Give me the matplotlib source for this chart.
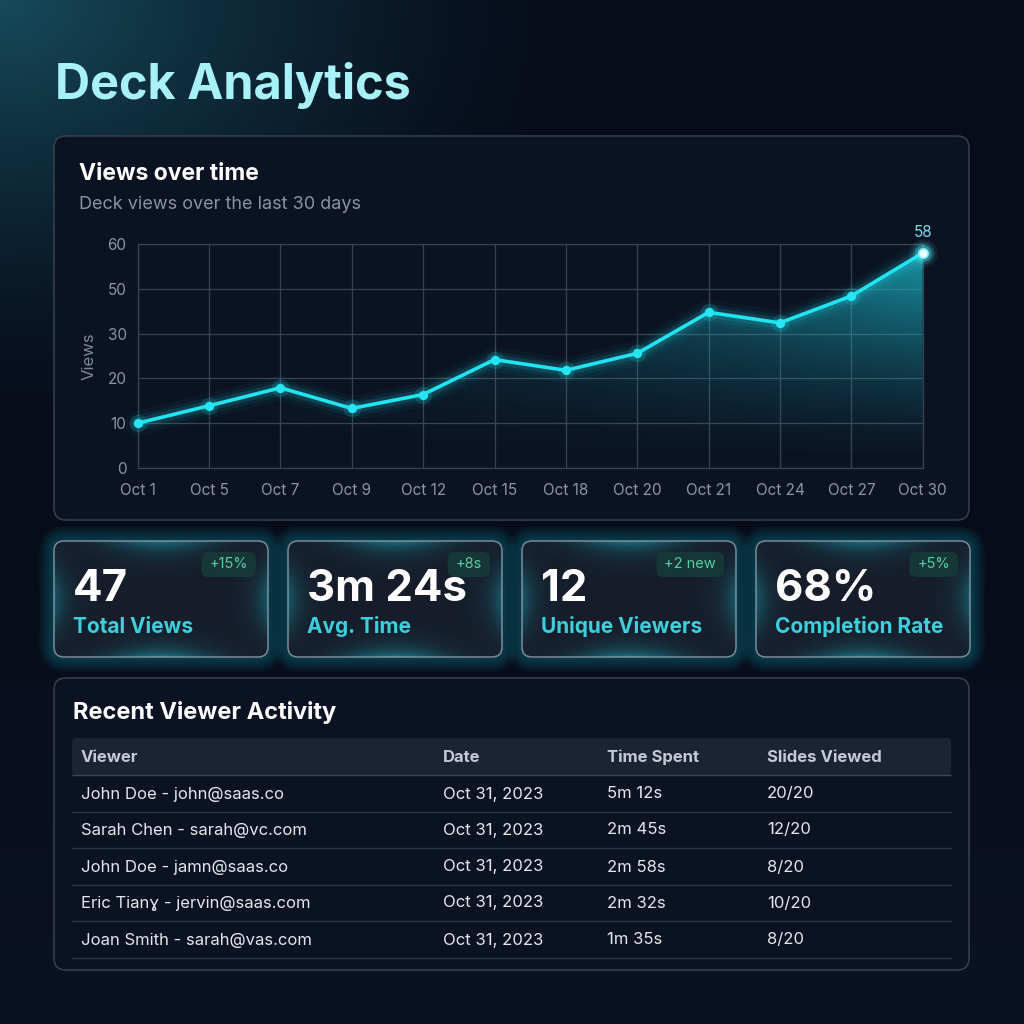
import numpy as np
import matplotlib
matplotlib.use("Agg")
import matplotlib.pyplot as plt
from matplotlib.patches import FancyBboxPatch
from matplotlib.colors import to_rgb

plt.rcParams['font.family'] = ['Inter', 'DejaVu Sans']

# ---- data ----
days = ['Oct 1', 'Oct 5', 'Oct 7', 'Oct 9', 'Oct 12', 'Oct 15',
        'Oct 18', 'Oct 20', 'Oct 21', 'Oct 24', 'Oct 27', 'Oct 30']
views = [10, 13.9, 17.9, 13.3, 16.4, 24.2, 21.8, 25.6, 39.5, 34.8, 46.8, 58]
ytick_vals = [0, 10, 20, 30, 50, 60]

stat_values = ['47', '3m 24s', '12', '68%']
stat_labels = ['Total Views', 'Avg. Time', 'Unique Viewers', 'Completion Rate']
stat_deltas = ['+15%', '+8s', '+2 new', '+5%']

table_cols = ['Viewer', 'Date', 'Time Spent', 'Slides Viewed']
viewers = ['John Doe - john@saas.co', 'Sarah Chen - sarah@vc.com',
           'John Doe - jamn@saas.co', 'Eric Tianɣ - jervin@saas.com',
           'Joan Smith - sarah@vas.com']
dates = ['Oct 31, 2023'] * 5
times = ['5m 12s', '2m 45s', '2m 58s', '2m 32s', '1m 35s']
slides = ['20/20', '12/20', '8/20', '10/20', '8/20']

# ---- figure, pixel coordinate background ----
W = H = 1024
fig = plt.figure(figsize=(10.24, 10.24), dpi=100)
bg = fig.add_axes([0, 0, 1, 1])
bg.set_xlim(0, W)
bg.set_ylim(H, 0)
bg.axis('off')

yy, xx = np.mgrid[0:H:4, 0:W:4]
base = np.array(to_rgb('#070c1a'))
teal = np.array(to_rgb('#164a5a'))
d = np.sqrt((xx / 580.0) ** 2 + (yy / 430.0) ** 2)
w = np.clip(1 - d, 0, 1) ** 1.4
low = np.clip((yy - 500) / 524.0, 0, 1)[..., None] * (np.array(to_rgb('#0b1222')) - base)
img = base + w[..., None] * (teal - base) + low
bg.imshow(np.clip(img, 0, 1), extent=[0, W, H, 0], aspect='auto', zorder=0)


def rbox(x0, y0, x1, y1, r, fc, ec='none', lw=1.0, alpha=1.0, z=1):
    p = FancyBboxPatch((x0, y0), x1 - x0, y1 - y0,
                       boxstyle=f"round,pad=0,rounding_size={r}",
                       fc=fc, ec=ec, lw=lw, alpha=alpha, zorder=z)
    bg.add_patch(p)
    return p


bg.text(55, 99, 'Deck Analytics', fontsize=35, fontweight='bold',
        color='#a8f1f6', va='baseline', ha='left')

# ---- chart card ----
rbox(54, 136, 969, 520, 12, '#0b1221', '#333e4e', lw=1.2, z=1)
bg.text(79, 180, 'Views over time', fontsize=16.5, fontweight='bold',
        color='white', va='baseline')
bg.text(79, 209, 'Deck views over the last 30 days', fontsize=13,
        color='#8a93a2', va='baseline')

L, R, T, B = 137.7, 922.7, 244, 468
ax = fig.add_axes([L / W, 1 - B / H, (R - L) / W, (B - T) / H])
ax.set_facecolor('none')
x = np.arange(len(days))
idx = np.arange(len(ytick_vals))


def fwd(v):
    return np.interp(np.asarray(v, dtype=float), ytick_vals, idx)


def inv(p):
    return np.interp(np.asarray(p, dtype=float), idx, ytick_vals)


ax.set_yscale('function', functions=(fwd, inv))

poly = ax.fill_between(x, views, 0, color='none', lw=0)
grad = np.zeros((200, 300, 4))
gx = np.linspace(0, 1, 300)
gy = np.linspace(1, 0, 200)
grad[..., :3] = to_rgb('#1cb3c4')
grad[..., 3] = (0.12 + 0.88 * gx[None, :] ** 1.5) * gy[:, None] ** 1.4 * 0.85
im = ax.imshow(grad, extent=[0, 1, 0, 1], transform=ax.transAxes,
               aspect='auto', origin='upper', zorder=1)
im.set_clip_path(poly.get_paths()[0], transform=ax.transData)

for lw, a in [(18, 0.035), (12, 0.06), (7.5, 0.12)]:
    ax.plot(x, views, color='#1de9f6', lw=lw, alpha=a,
            solid_capstyle='round', zorder=3, clip_on=False)
ax.plot(x, views, color='#22e3f0', lw=2.6, zorder=4, clip_on=False)
ax.scatter(x, views, s=160, color='#1de9f6', alpha=0.15, lw=0,
           zorder=4, clip_on=False)
ax.scatter(x[:-1], views[:-1], s=45, color='#25e6f2', lw=0, zorder=5,
           clip_on=False)
for s_, a_ in [(420, 0.08), (250, 0.14), (140, 0.25)]:
    ax.scatter(x[-1:], views[-1:], s=s_, color='#5ff4fb', alpha=a_, lw=0,
               zorder=5, clip_on=False)
ax.scatter(x[-1:], views[-1:], s=45, color='#effeff', lw=1.2,
           edgecolor='#7ff3fa', zorder=6, clip_on=False)
ax.annotate(f"{views[-1]:.0f}", (x[-1], views[-1]), xytext=(0, 9),
            textcoords='offset points', ha='center', va='bottom',
            color='#77dfe8', fontsize=11)

ax.set_xlim(0, len(days) - 1)
ax.set_ylim(0, 60)
ax.set_xticks(x)
ax.set_xticklabels(days)
ax.set_yticks(ytick_vals)
ax.set_yticklabels([str(v) for v in ytick_vals])
ax.grid(color='#3a4352', lw=0.9)
ax.set_axisbelow(True)
for s in ax.spines.values():
    s.set_color('#3a4352')
    s.set_linewidth(0.9)
ax.tick_params(length=0, colors='#8d95a3', labelsize=11)
ax.tick_params(axis='x', pad=11)
ax.tick_params(axis='y', pad=8)
ax.set_ylabel('Views', color='#7f8896', fontsize=12)
ax.yaxis.set_label_coords(-0.053, 0.5)

# ---- stat cards ----
renderer = fig.canvas.get_renderer()
card_x = [54, 288, 522, 756]
cw, cy0, cy1 = 214, 541, 657
for i, x0 in enumerate(card_x):
    x1 = x0 + cw
    for k in range(7):
        g = 2 + k * 3.2
        rbox(x0, cy0, x1, cy1, 10, 'none', '#18c8d8', lw=g, alpha=0.045, z=2)
    card = rbox(x0, cy0, x1, cy1, 10, '#161c2a', z=3)
    # inner edge glow
    ih, iw = 58, 107
    ey, ex = np.mgrid[0:ih, 0:iw]
    ex = ex / (iw - 1)
    ey = ey / (ih - 1)
    dv = np.minimum(ey, 1 - ey) * (cy1 - cy0)
    dh = np.minimum(ex, 1 - ex) * cw
    a = (0.45 * np.exp(-dv / 10) * np.exp(-((ex - 0.5) / 0.25) ** 2)
         + 0.35 * np.exp(-dh / 12) * np.exp(-((ey - 0.5) / 0.3) ** 2))
    gl = np.zeros((ih, iw, 4))
    gl[..., :3] = to_rgb('#1fc7d6')
    gl[..., 3] = np.clip(a, 0, 1)
    gi = bg.imshow(gl, extent=[x0, x1, cy1, cy0], aspect='auto', zorder=3.5)
    gi.set_clip_path(card)
    rbox(x0, cy0, x1, cy1, 10, 'none', '#8c9aa8', lw=1.1, alpha=0.85, z=4)

    bg.text(x0 + 19, 601, stat_values[i], fontsize=31.5, fontweight='bold',
            color='white', va='baseline', zorder=6)
    bg.text(x0 + 19, 633, stat_labels[i], fontsize=15, fontweight='bold',
            color='#3dcfdc', va='baseline', zorder=6)

    t = bg.text(0, 564, stat_deltas[i], fontsize=10.5, color='#58cfa2',
                ha='center', va='center', zorder=7)
    tw = t.get_window_extent(renderer).width
    bw = tw + 16
    bx1 = x1 - 12
    t.set_position((bx1 - bw / 2, 564))
    rbox(bx1 - bw, 552, bx1, 577, 7, '#173a37', alpha=0.9, z=5)

# ---- table card ----
rbox(54, 678, 969, 970, 12, '#0b1221', '#333e4e', lw=1.2, z=1)
bg.text(73, 719, 'Recent Viewer Activity', fontsize=17, fontweight='bold',
        color='white', va='baseline')
rbox(72, 738, 951, 775, 4, '#1c2333', z=2)
col_x = [81, 443, 607, 767]
for cx, name in zip(col_x, table_cols):
    bg.text(cx, 757, name, fontsize=12, fontweight='bold', color='#c3cad4',
            va='center', zorder=3)
bg.plot([72, 951], [775, 775], color='#3a4556', lw=1, zorder=3)
row_y = [794, 830, 867, 903, 940]
for j, ry in enumerate(row_y):
    for cx, val in zip(col_x, [viewers[j], dates[j], times[j], slides[j]]):
        bg.text(cx, ry, val, fontsize=12, color='#e3e7ec', va='center',
                zorder=3, family=['Inter', 'DejaVu Sans'])
    bg.plot([72, 951], [ry + 17.5, ry + 17.5], color='#2c3646', lw=1, zorder=2)

fig.savefig('out.png', dpi=100, facecolor=fig.get_facecolor())
